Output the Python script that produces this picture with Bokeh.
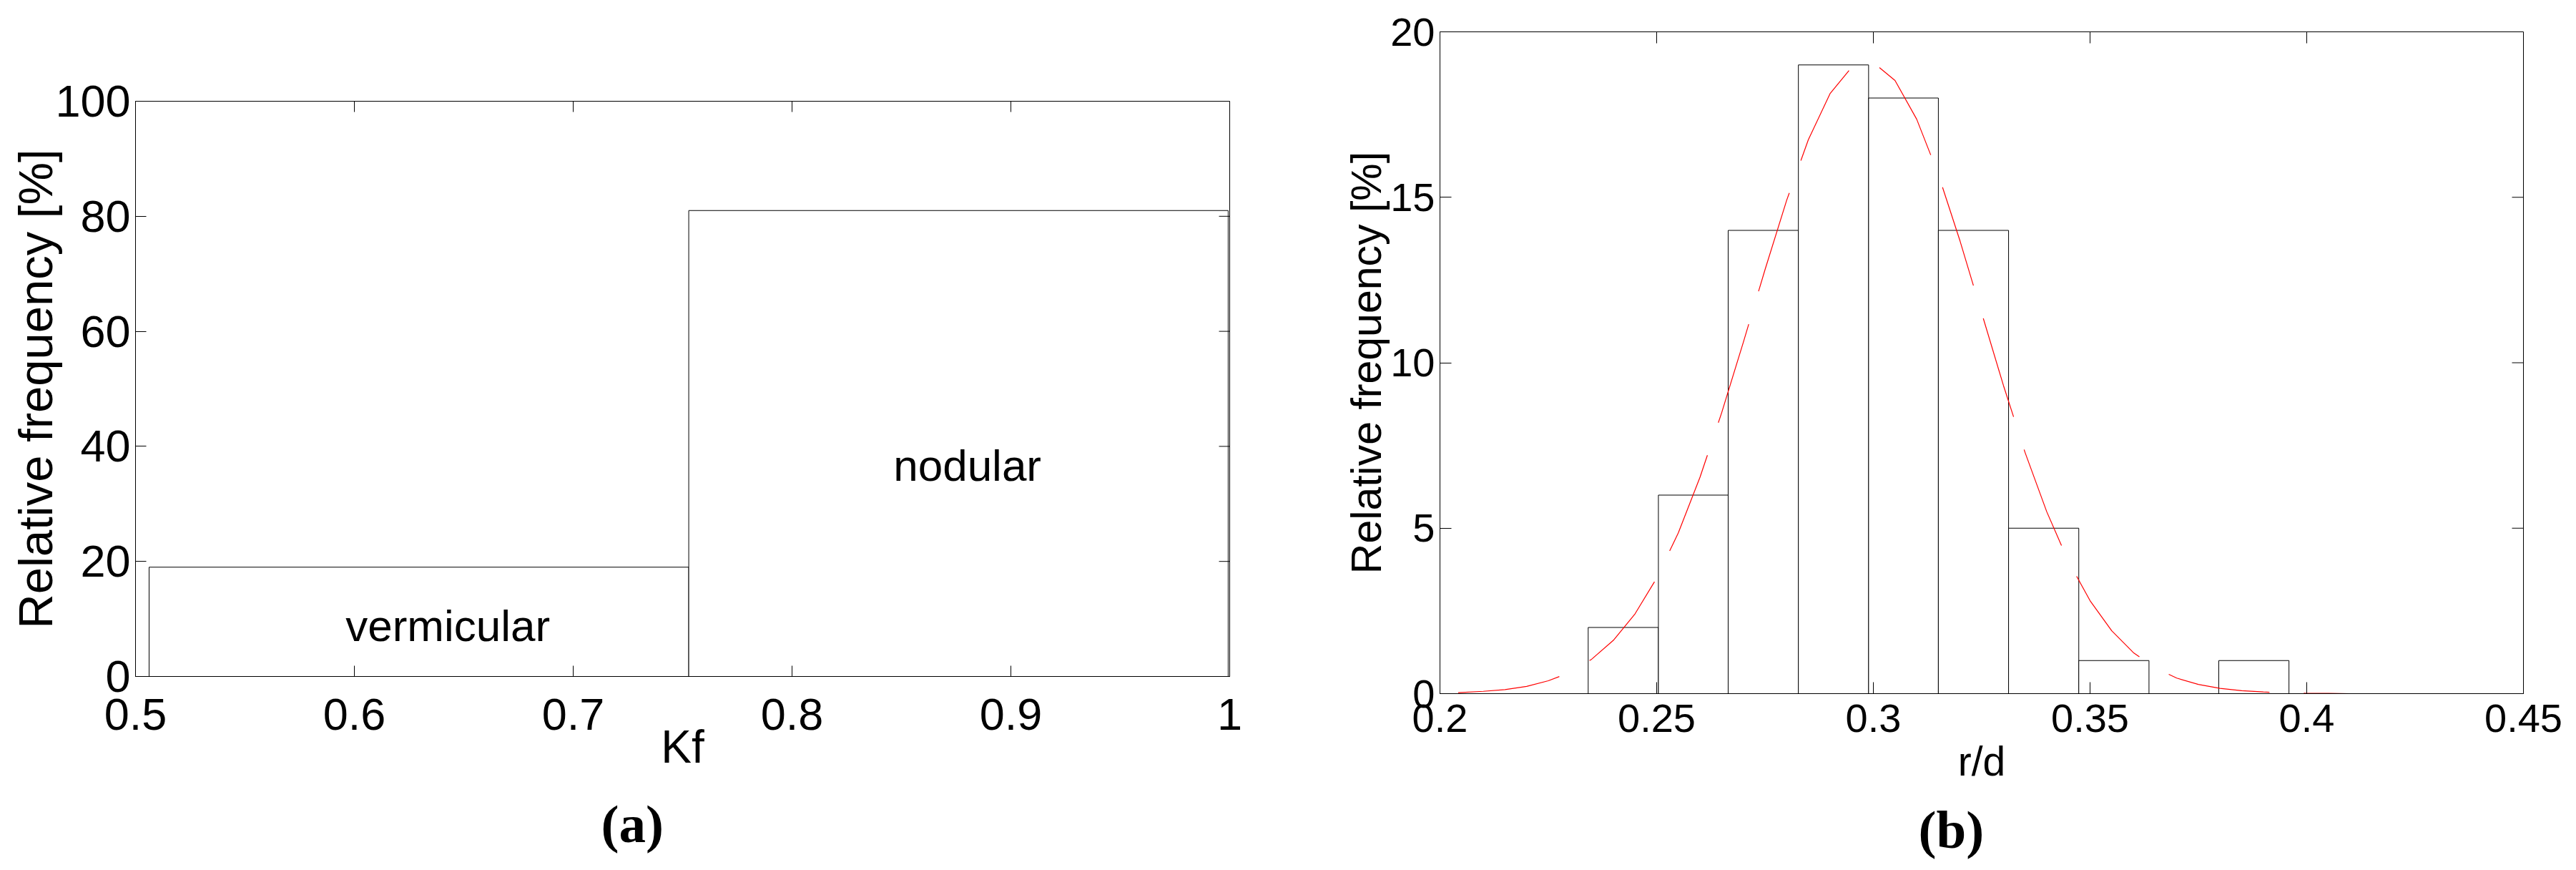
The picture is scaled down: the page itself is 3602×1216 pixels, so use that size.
import math
from bokeh.plotting import figure
from bokeh.models import Range1d, FixedTicker, Title, ColumnDataSource
from bokeh.embed import file_html
from bokeh.resources import INLINE
from bokeh.core.properties import value

# ---------------- data: panel (a) ----------------
kf_bin_edges = [0.5062, 0.7528, 0.9993]
kf_freq = [19, 81]
kf_classes = ["vermicular", "nodular"]
kf_xticks = [0.5, 0.6, 0.7, 0.8, 0.9, 1.0]
kf_xtick_labels = ["0.5", "0.6", "0.7", "0.8", "0.9", "1"]
kf_yticks = [0, 20, 40, 60, 80, 100]

# ---------------- data: panel (b) ----------------
rd_bin_edges = [0.2342, 0.2504, 0.2665, 0.2827, 0.2989, 0.3150,
                0.3312, 0.3474, 0.3636, 0.3797, 0.3959]
rd_freq = [2, 6, 14, 19, 18, 14, 5, 1, 0, 1]
rd_fit_x = [0.2042, 0.210, 0.215, 0.220, 0.225, 0.230, 0.235, 0.240, 0.245,
            0.250, 0.255, 0.260, 0.265, 0.270, 0.275, 0.280, 0.285, 0.290,
            0.295, 0.300, 0.305, 0.310, 0.315, 0.320, 0.325, 0.330, 0.335,
            0.340, 0.345, 0.350, 0.355, 0.360, 0.365, 0.370, 0.375, 0.380,
            0.385, 0.390, 0.395, 0.400, 0.405, 0.410, 0.415, 0.4223]
rd_fit_y = [0.03, 0.07, 0.12, 0.22, 0.39, 0.64, 1.04, 1.61, 2.41,
            3.49, 4.86, 6.54, 8.49, 10.62, 12.81, 14.91, 16.74, 18.13,
            18.93, 19.07, 18.53, 17.36, 15.69, 13.68, 11.50, 9.32, 7.29,
            5.50, 4.00, 2.81, 1.90, 1.24, 0.78, 0.47, 0.28, 0.16,
            0.09, 0.05, 0.02, 0.01, 0.01, 0.00, 0.00, 0.00]
rd_xticks = [0.2, 0.25, 0.3, 0.35, 0.4, 0.45]
rd_xtick_labels = ["0.2", "0.25", "0.3", "0.35", "0.4", "0.45"]
rd_yticks = [0, 5, 10, 15, 20]

# annotation placement (data coordinates)
class_label_x = [0.6427, 0.8801]
class_label_y = [8.8, 36.7]

SANS = "Liberation Sans"
SERIF = "Liberation Serif"


def style_axis(ax, ticks, labels, font_size, standoff, tick_in):
    ax.ticker = FixedTicker(ticks=ticks)
    ax.major_tick_in = tick_in
    ax.major_tick_out = 0
    ax.minor_tick_in = 0
    ax.minor_tick_out = 0
    ax.axis_line_color = "black"
    ax.axis_line_width = 1
    ax.major_tick_line_color = "black"
    ax.major_tick_line_width = 1
    ax.major_label_text_font = SANS
    ax.major_label_text_font_size = font_size
    ax.major_label_text_color = "black"
    ax.major_label_standoff = standoff
    if labels is not None:
        ax.major_label_overrides = {t: l for t, l in zip(ticks, labels)}


def style_label(ax, text, size, standoff):
    ax.axis_label = text
    ax.axis_label_text_font = SANS
    ax.axis_label_text_font_size = size
    ax.axis_label_text_font_style = "normal"
    ax.axis_label_text_color = "black"
    ax.axis_label_standoff = standoff


def make_fig(xr, yr, fw, fh, left, right, top, bottom):
    p = figure(frame_width=fw, frame_height=fh, x_range=Range1d(*xr), y_range=Range1d(*yr),
               output_backend="svg", toolbar_location=None, title=None,
               min_border_left=left, min_border_right=right,
               min_border_top=top, min_border_bottom=bottom,
               background_fill_color="white", border_fill_color="white",
               outline_line_color="black", outline_line_width=1, outline_line_alpha=1)
    p.grid.visible = False
    return p


def mirror_ticks(p, xticks, yticks, xmax, ymax, length):
    # inward ticks on the top and right edges of the box, as in the original
    p.ray(x=xticks, y=ymax, length=length, length_units="screen", angle=-math.pi / 2,
          line_color="black", line_width=1)
    p.ray(x=xmax, y=yticks, length=length, length_units="screen", angle=math.pi,
          line_color="black", line_width=1)


def caption(p, text, offset, standoff):
    p.add_layout(Title(text=text, align="left", offset=offset, standoff=standoff,
                       text_font=SERIF, text_font_style="bold", text_font_size="75px",
                       text_color="black"), "below")


# ---------------- panel (a) ----------------
pa = make_fig((0.5, 1.0), (0, 100), 1530, 804, 189, 81, 141, 261)
pa.quad(left=kf_bin_edges[:-1], right=kf_bin_edges[1:], top=kf_freq, bottom=0,
        fill_color="white", line_color="black", line_width=1)
src_a = ColumnDataSource(dict(x=class_label_x, y=class_label_y, t=kf_classes))
pa.text(x="x", y="y", text="t", source=src_a, text_align="center", text_baseline="alphabetic",
        text_font=value(SANS), text_font_size="62px", text_color="black")
mirror_ticks(pa, kf_xticks, kf_yticks, 1.0, 100, 15)
style_axis(pa.xaxis[0], kf_xticks, kf_xtick_labels, "63px", 31, 15)
style_axis(pa.yaxis[0], kf_yticks, None, "63px", 7, 15)
style_label(pa.xaxis[0], "Kf", "64px", -15)
style_label(pa.yaxis[0], "Relative frequency [%]", "67px", -13)
caption(pa, "(a)", 651, 50)

# ---------------- panel (b) ----------------
pb = make_fig((0.2, 0.45), (0, 20), 1515, 925, 213, 66, 44, 237)
pb.quad(left=rd_bin_edges[:-1], right=rd_bin_edges[1:], top=rd_freq, bottom=0,
        fill_color="white", line_color="black", line_width=1)
pb.line(rd_fit_x, rd_fit_y, line_color="red", line_width=1.2, line_dash="144 48")
mirror_ticks(pb, rd_xticks, rd_yticks, 0.45, 20, 16)
style_axis(pb.xaxis[0], rd_xticks, rd_xtick_labels, "56px", 15, 16)
style_axis(pb.yaxis[0], rd_yticks, None, "56px", 7, 16)
style_label(pb.xaxis[0], "r/d", "57px", 6)
style_label(pb.yaxis[0], "Relative frequency [%]", "59px", -3)
caption(pb, "(b)", 669, 35)

# two independent roots laid side by side (no frame alignment between them)
side_by_side = ("{% block postamble %}<style>body { display: flex !important; "
                "flex-direction: row; align-items: flex-start; }</style>{% endblock %}")
open("out.html", "w").write(file_html([pa, pb], INLINE, title="Relative frequency histograms",
                                      template=side_by_side))
